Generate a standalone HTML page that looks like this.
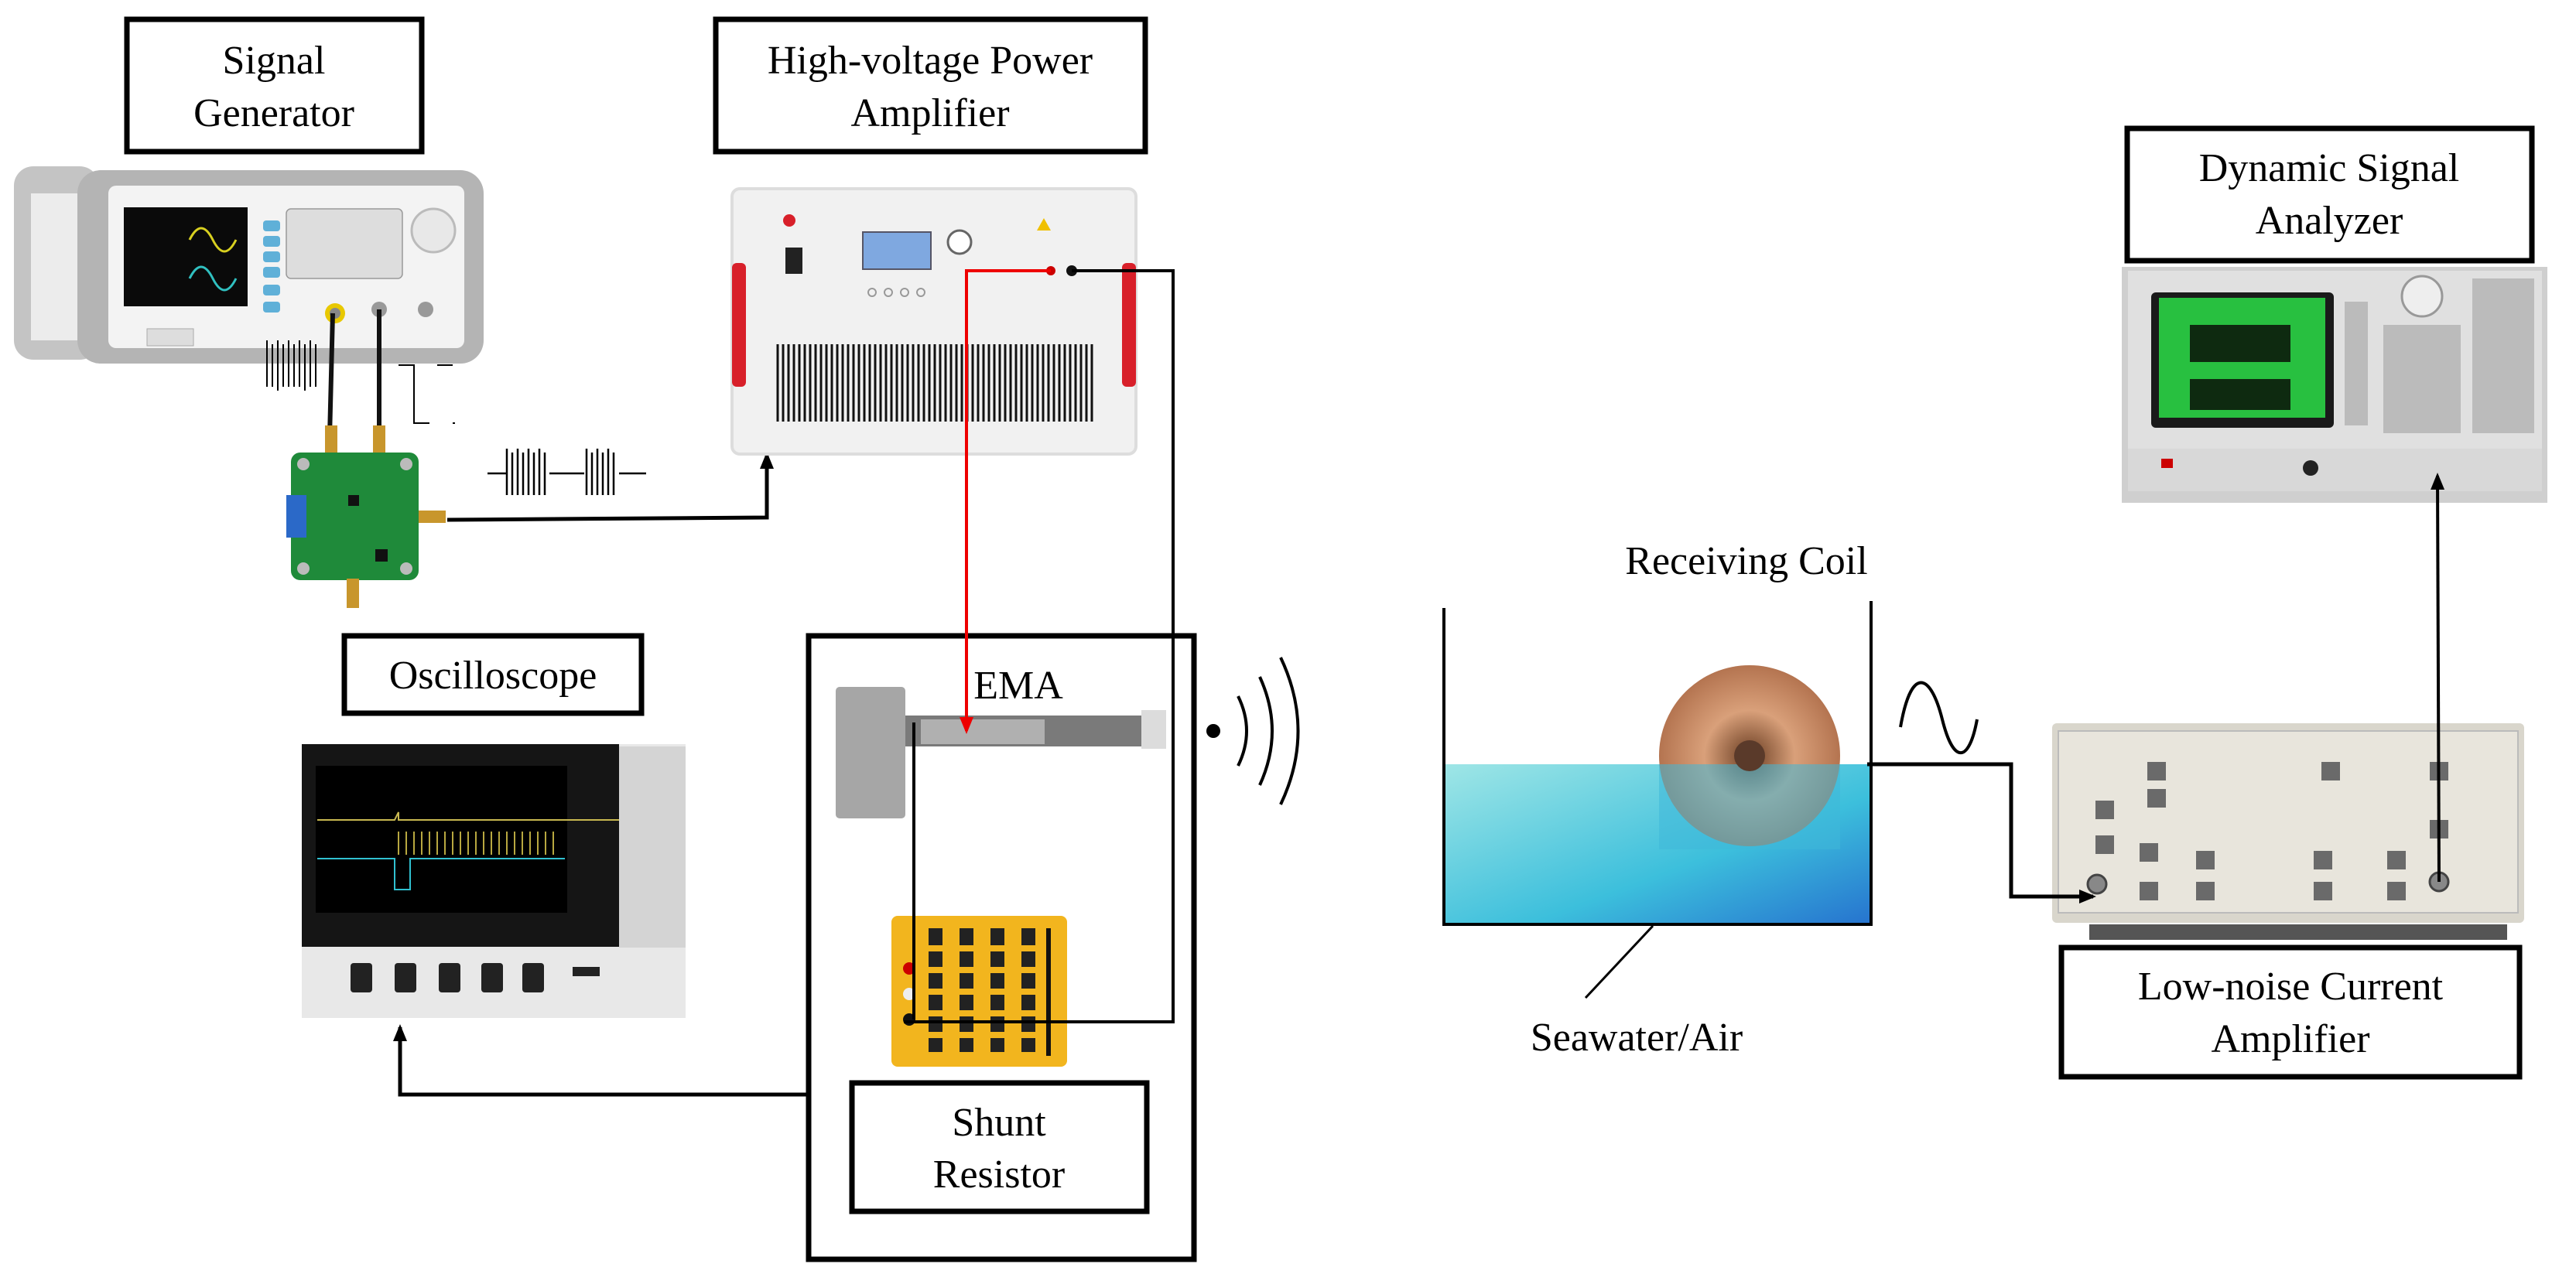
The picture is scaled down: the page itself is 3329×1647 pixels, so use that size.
<!DOCTYPE html>
<html><head><meta charset="utf-8"><style>
html,body{margin:0;padding:0;background:#fff;}
svg{display:block;}
svg text{font-family:"Liberation Serif","Times New Roman",serif !important;fill:#000;}
</style></head><body>
<svg width="3329" height="1647" viewBox="0 0 3329 1647" xmlns="http://www.w3.org/2000/svg">
<defs>
<marker id="ab" markerWidth="22" markerHeight="22" refX="18" refY="11" orient="auto" markerUnits="userSpaceOnUse" viewBox="0 0 22 22"><path d="M0,2 L22,11 L0,20 z" fill="#000"/></marker>
<marker id="ar" markerWidth="22" markerHeight="22" refX="18" refY="11" orient="auto" markerUnits="userSpaceOnUse" viewBox="0 0 22 22"><path d="M0,2 L22,11 L0,20 z" fill="#e00"/></marker>
<linearGradient id="wat" x1="0" y1="0" x2="1" y2="1"><stop offset="0" stop-color="#9fe6e6"/><stop offset="0.6" stop-color="#3cbfdc"/><stop offset="1" stop-color="#2673cf"/></linearGradient>
<radialGradient id="coil" cx="0.5" cy="0.5" r="0.5"><stop offset="0.15" stop-color="#8a5a3c"/><stop offset="0.5" stop-color="#d9a07a"/><stop offset="1" stop-color="#b47450"/></radialGradient>
</defs>

<!-- Label boxes -->
<g fill="none" stroke="#000" stroke-width="7">
<rect x="164" y="25" width="381" height="171"/>
<rect x="925" y="25" width="555" height="171"/>
<rect x="445" y="822" width="384" height="100"/>
<rect x="1045" y="822" width="498" height="806"/>
<rect x="1101" y="1400" width="381" height="166"/>
<rect x="2749" y="166" width="523" height="171"/>
<rect x="2664" y="1225" width="592" height="167"/>
</g>
<g font-size="52" text-anchor="middle" font-family="Liberation Serif, serif">
<text x="354" y="95">Signal</text><text x="354" y="163">Generator</text>
<text x="1202" y="95">High-voltage Power</text><text x="1202" y="163">Amplifier</text>
<text x="637" y="890">Oscilloscope</text>
<text x="1291" y="1468">Shunt</text><text x="1291" y="1535">Resistor</text>
<text x="3010" y="234">Dynamic Signal</text><text x="3010" y="302">Analyzer</text>
<text x="2960" y="1292">Low-noise Current</text><text x="2960" y="1360">Amplifier</text>
<text x="1316" y="903">EMA</text>
<text x="2257" y="742">Receiving Coil</text>
<text x="2115" y="1358">Seawater/Air</text>
</g>

<!-- Signal generator device -->
<rect x="18" y="215" width="110" height="250" rx="25" fill="#c4c4c4"/>
<rect x="40" y="250" width="80" height="190" fill="#ececec"/>
<rect x="100" y="220" width="525" height="250" rx="30" fill="#b4b4b4"/>
<rect x="140" y="240" width="460" height="210" rx="10" fill="#f3f3f3"/>
<rect x="160" y="268" width="160" height="128" fill="#0a0a0a"/>
<path d="M245,310 q15,-30 30,0 t30,0" stroke="#d8d020" stroke-width="3" fill="none"/>
<path d="M245,360 q15,-30 30,0 t30,0" stroke="#30c0c0" stroke-width="3" fill="none"/>
<g fill="#5fb0d8"><rect x="340" y="285" width="22" height="14" rx="4"/><rect x="340" y="305" width="22" height="14" rx="4"/><rect x="340" y="325" width="22" height="14" rx="4"/><rect x="340" y="345" width="22" height="14" rx="4"/><rect x="340" y="368" width="22" height="14" rx="4"/><rect x="340" y="390" width="22" height="14" rx="4"/></g>
<rect x="370" y="270" width="150" height="90" rx="6" fill="#ddd" stroke="#999" stroke-width="1.5"/>
<circle cx="560" cy="298" r="28" fill="#e8e8e8" stroke="#bbb" stroke-width="3"/>
<circle cx="433" cy="405" r="13" fill="#e8c800"/><circle cx="433" cy="405" r="7" fill="#888"/>
<circle cx="490" cy="400" r="10" fill="#999"/><circle cx="550" cy="400" r="10" fill="#999"/>
<rect x="190" y="425" width="60" height="22" fill="#ddd" stroke="#aaa"/>
<g stroke="#000" stroke-width="2" fill="none">
<path d="M345,440 v60 M352,445 v55 M359,440 v65 M366,445 v55 M373,440 v60 M380,445 v55 M387,440 v60 M394,445 v60 M401,440 v60 M408,445 v55"/>
<path d="M515,472 h20 v75 h20 M565,472 h20 M585,547 h3"/>
</g>
<g stroke="#111" stroke-width="6"><line x1="430" y1="405" x2="426" y2="565"/><line x1="490" y1="400" x2="490" y2="565"/></g>
<!-- PCB -->
<rect x="420" y="550" width="16" height="40" fill="#c8962c"/><rect x="482" y="550" width="16" height="40" fill="#c8962c"/>
<rect x="376" y="585" width="165" height="165" rx="12" fill="#1f8a3a"/>
<rect x="370" y="640" width="26" height="55" fill="#2b69c8"/>
<rect x="541" y="660" width="35" height="16" fill="#c8962c"/>
<rect x="448" y="748" width="16" height="38" fill="#c8962c"/>
<rect x="450" y="640" width="14" height="14" fill="#111"/><rect x="485" y="710" width="16" height="16" fill="#111"/>
<g fill="#bbb"><circle cx="392" cy="600" r="8"/><circle cx="525" cy="600" r="8"/><circle cx="392" cy="735" r="8"/><circle cx="525" cy="735" r="8"/></g>
<g stroke="#000" stroke-width="2.5" fill="none">
<path d="M630,612 h25 M655,580 v60 M662,585 v55 M669,580 v60 M676,585 v55 M683,580 v60 M690,585 v55 M697,580 v60 M704,585 v55 M710,612 h45 M758,580 v60 M765,585 v55 M772,580 v60 M779,585 v55 M786,580 v60 M793,585 v55 M800,612 h35"/>
</g>
<polyline points="578,672 991,669 991,588" fill="none" stroke="#000" stroke-width="5" marker-end="url(#ab)"/>

<!-- Power amplifier device -->
<rect x="946" y="244" width="522" height="343" rx="10" fill="#f1f1f1" stroke="#ddd" stroke-width="4"/>
<rect x="946" y="340" width="18" height="160" rx="6" fill="#d8202a"/><rect x="1450" y="340" width="18" height="160" rx="6" fill="#d8202a"/>
<rect x="1015" y="320" width="22" height="34" fill="#222"/>
<rect x="1115" y="300" width="88" height="48" fill="#7fa8e0" stroke="#556" stroke-width="2"/>
<circle cx="1240" cy="313" r="15" fill="#fff" stroke="#666" stroke-width="3"/>
<circle cx="1020" cy="285" r="8" fill="#d8202a"/>
<path d="M1340,298 l9,-16 l9,16z" fill="#f0c000"/>
<g fill="none" stroke="#999" stroke-width="2"><circle cx="1127" cy="378" r="5"/><circle cx="1148" cy="378" r="5"/><circle cx="1169" cy="378" r="5"/><circle cx="1190" cy="378" r="5"/></g>
<g stroke="#111" stroke-width="3">
<path d="M1005,445 v100 M1012,445 v100 M1019,445 v100 M1026,445 v100 M1033,445 v100 M1040,445 v100 M1047,445 v100 M1054,445 v100 M1061,445 v100 M1068,445 v100 M1075,445 v100 M1082,445 v100 M1089,445 v100 M1096,445 v100 M1103,445 v100 M1110,445 v100 M1117,445 v100 M1124,445 v100 M1131,445 v100 M1138,445 v100 M1145,445 v100 M1152,445 v100 M1159,445 v100 M1166,445 v100 M1173,445 v100 M1180,445 v100 M1187,445 v100 M1194,445 v100 M1201,445 v100 M1208,445 v100 M1215,445 v100 M1222,445 v100 M1229,445 v100 M1236,445 v100 M1243,445 v100 M1250,445 v100 M1257,445 v100 M1264,445 v100 M1271,445 v100 M1278,445 v100 M1285,445 v100 M1292,445 v100 M1299,445 v100 M1306,445 v100 M1313,445 v100 M1320,445 v100 M1327,445 v100 M1334,445 v100 M1341,445 v100 M1348,445 v100 M1355,445 v100 M1362,445 v100 M1369,445 v100 M1376,445 v100 M1383,445 v100 M1390,445 v100 M1397,445 v100 M1404,445 v100 M1411,445 v100"/>
</g>
<circle cx="1358" cy="350" r="6" fill="#c00"/><circle cx="1385" cy="350" r="7" fill="#111"/>

<!-- EMA -->
<rect x="1080" y="888" width="90" height="170" rx="5" fill="#a6a6a6"/>
<rect x="1170" y="925" width="305" height="40" fill="#7a7a7a"/>
<rect x="1190" y="930" width="160" height="32" fill="#b0b0b0"/>
<rect x="1475" y="918" width="32" height="50" fill="#dcdcdc"/>
<polyline points="1358,350 1249,350 1249,945" fill="none" stroke="#e00" stroke-width="4" marker-end="url(#ar)"/>
<!-- shunt resistor -->
<rect x="1152" y="1184" width="227" height="195" rx="8" fill="#f2b51e"/>
<g fill="#222">
<rect x="1200" y="1200" width="18" height="160"/><rect x="1240" y="1200" width="18" height="160"/><rect x="1280" y="1200" width="18" height="160"/><rect x="1320" y="1200" width="18" height="160"/>
</g>
<g fill="#f2b51e"><rect x="1195" y="1222" width="150" height="8"/><rect x="1195" y="1250" width="150" height="8"/><rect x="1195" y="1278" width="150" height="8"/><rect x="1195" y="1306" width="150" height="8"/><rect x="1195" y="1334" width="150" height="8"/></g>
<rect x="1352" y="1200" width="6" height="165" fill="#111"/>
<circle cx="1175" cy="1252" r="8" fill="#c00"/><circle cx="1175" cy="1285" r="8" fill="#eee"/><circle cx="1175" cy="1318" r="8" fill="#111"/>
<polyline points="1385,350 1516,350 1516,1321 1168,1321" fill="none" stroke="#000" stroke-width="4"/>
<line x1="1181" y1="934" x2="1181" y2="1318" stroke="#000" stroke-width="4"/>
<circle cx="1568" cy="945" r="9" fill="#000"/>
<g fill="none" stroke="#000" stroke-width="4">
<path d="M1600,900 q22,45 0,90"/><path d="M1628,875 q32,70 0,140"/><path d="M1655,850 q45,95 0,190"/>
</g>
<polyline points="1045,1415 517,1415 517,1328" fill="none" stroke="#000" stroke-width="5" marker-end="url(#ab)"/>

<!-- Oscilloscope -->
<rect x="390" y="962" width="496" height="354" fill="#e8e8e8"/>
<rect x="390" y="962" width="410" height="262" fill="#151515"/>
<rect x="408" y="990" width="325" height="190" fill="#000"/>
<path d="M410,1060 h100 l5,-10 v10 h300" stroke="#c8b850" stroke-width="2" fill="none"/>
<path d="M410,1110 h100 v40 h20 v-40 h200" stroke="#30c0d0" stroke-width="2" fill="none"/>
<g stroke="#b8a840" stroke-width="2"><path d="M515,1075 v30 M525,1075 v30 M535,1075 v30 M545,1075 v30 M555,1075 v30 M565,1075 v30 M575,1075 v30 M585,1075 v30 M595,1075 v30 M605,1075 v30 M615,1075 v30 M625,1075 v30 M635,1075 v30 M645,1075 v30 M655,1075 v30 M665,1075 v30 M675,1075 v30 M685,1075 v30 M695,1075 v30 M705,1075 v30 M715,1075 v30"/></g>
<rect x="800" y="965" width="86" height="260" fill="#d4d4d4"/>
<g fill="#222"><rect x="453" y="1245" width="28" height="38" rx="4"/><rect x="510" y="1245" width="28" height="38" rx="4"/><rect x="567" y="1245" width="28" height="38" rx="4"/><rect x="622" y="1245" width="28" height="38" rx="4"/><rect x="675" y="1245" width="28" height="38" rx="4"/></g>
<rect x="740" y="1250" width="35" height="12" fill="#222"/>

<!-- Tank -->
<rect x="1866" y="988" width="552" height="207" fill="url(#wat)"/>
<circle cx="2261" cy="977" r="117" fill="url(#coil)"/>
<rect x="2144" y="988" width="234" height="110" fill="#3fb8d8" opacity="0.55"/>
<circle cx="2261" cy="977" r="20" fill="#5a3a2a"/>
<polyline points="1866,786 1866,1195 2418,1195 2418,777" fill="none" stroke="#000" stroke-width="4"/>
<line x1="2136" y1="1197" x2="2049" y2="1290" stroke="#000" stroke-width="3"/>
<path d="M2456,940 C2470,860 2495,870 2510,930 C2525,990 2545,985 2555,930" fill="none" stroke="#000" stroke-width="4"/>

<!-- Dynamic signal analyzer -->
<rect x="2742" y="345" width="550" height="305" fill="#cfcfcf"/>
<rect x="2750" y="350" width="535" height="230" fill="#e0e0e0"/>
<rect x="2780" y="378" width="236" height="175" rx="6" fill="#1a1a1a"/>
<rect x="2790" y="385" width="215" height="155" fill="#28c040"/>
<rect x="2830" y="420" width="130" height="48" fill="#0e2a10"/><rect x="2830" y="490" width="130" height="40" fill="#0e2a10"/>
<circle cx="3130" cy="383" r="26" fill="#eee" stroke="#999" stroke-width="3"/>
<g fill="#bbb"><rect x="3080" y="420" width="100" height="140"/><rect x="3195" y="360" width="80" height="200"/><rect x="3030" y="390" width="30" height="160"/></g>
<rect x="2750" y="580" width="535" height="55" fill="#d8d8d8"/>
<circle cx="2986" cy="605" r="10" fill="#222"/><rect x="2793" y="593" width="15" height="12" fill="#c00"/>

<!-- Current amplifier device -->
<rect x="2652" y="935" width="610" height="258" rx="6" fill="#d9d6cc"/>
<rect x="2660" y="945" width="594" height="235" fill="#e8e5dc" stroke="#bbb" stroke-width="2"/>
<rect x="2700" y="1195" width="540" height="20" fill="#555"/>
<g fill="#6a6a6a"><rect x="2708" y="1035" width="24" height="24"/><rect x="2708" y="1080" width="24" height="24"/><rect x="2775" y="985" width="24" height="24"/><rect x="2775" y="1020" width="24" height="24"/><rect x="2765" y="1090" width="24" height="24"/><rect x="2765" y="1140" width="24" height="24"/><rect x="2838" y="1100" width="24" height="24"/><rect x="2838" y="1140" width="24" height="24"/><rect x="3000" y="985" width="24" height="24"/><rect x="2990" y="1100" width="24" height="24"/><rect x="2990" y="1140" width="24" height="24"/><rect x="3085" y="1100" width="24" height="24"/><rect x="3085" y="1140" width="24" height="24"/><rect x="3140" y="985" width="24" height="24"/><rect x="3140" y="1060" width="24" height="24"/></g>
<circle cx="2710" cy="1143" r="12" fill="#888" stroke="#444" stroke-width="3"/>
<circle cx="3152" cy="1140" r="12" fill="#888" stroke="#444" stroke-width="3"/>

<!-- connectors on top -->
<polyline points="2413,988 2599,988 2599,1159 2705,1159" fill="none" stroke="#000" stroke-width="5" marker-end="url(#ab)"/>
<line x1="3152" y1="1140" x2="3150" y2="615" stroke="#000" stroke-width="4" marker-end="url(#ab)"/>
</svg>
</body></html>
